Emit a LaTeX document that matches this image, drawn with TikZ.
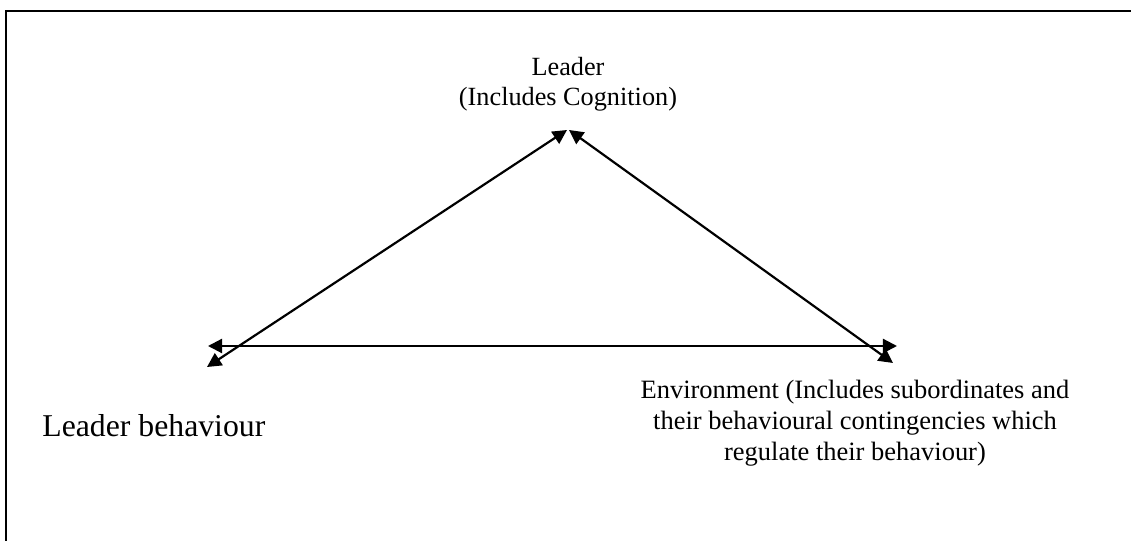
\documentclass[tikz,border=0pt]{standalone}
\usepackage{fontspec}
\setmainfont{Liberation Serif}
\usetikzlibrary{arrows.meta,positioning}

\begin{document}
\begin{tikzpicture}[
    x=0.457pt, y=-0.457pt,
    txt/.style={inner sep=0pt, align=center, font=\fontsize{12}{13.8}\selectfont},
    link/.style={{Triangle[length=6.5pt,width=6.5pt]}-{Triangle[length=6.5pt,width=6.5pt]}, line width=1pt},
    frame/.style={line width=0.8pt}
]
    \useasboundingbox (0,0) rectangle (1131,541);
    \draw[frame] (6,541) -- (6,11) -- (1131,11);

    \node[txt, anchor=north] (leader) at (568,57) {Leader\\(Includes Cognition)};
    \node[txt, anchor=base west, font=\fontsize{14.5}{16}\selectfont] (behaviour) at (42,437) {Leader behaviour};
    \node[txt, anchor=north, font=\fontsize{12.1}{14.2}\selectfont] (environment) at (855,380)
        {Environment (Includes subordinates and\\their behavioural contingencies which\\regulate their behaviour)};

    % corners of the triangle
    \coordinate (topL) at (567,130);
    \coordinate (topR) at (569,130);
    \coordinate (botL) at (207,367);
    \coordinate (midL) at (208,346);
    \coordinate (midR) at (897,346);
    \coordinate (botR) at (893,363);

    \draw[link] (botL) -- (topL);
    \draw[link] (topR) -- (botR);
    \draw[link] (midL) -- (midR);
\end{tikzpicture}
\end{document}
